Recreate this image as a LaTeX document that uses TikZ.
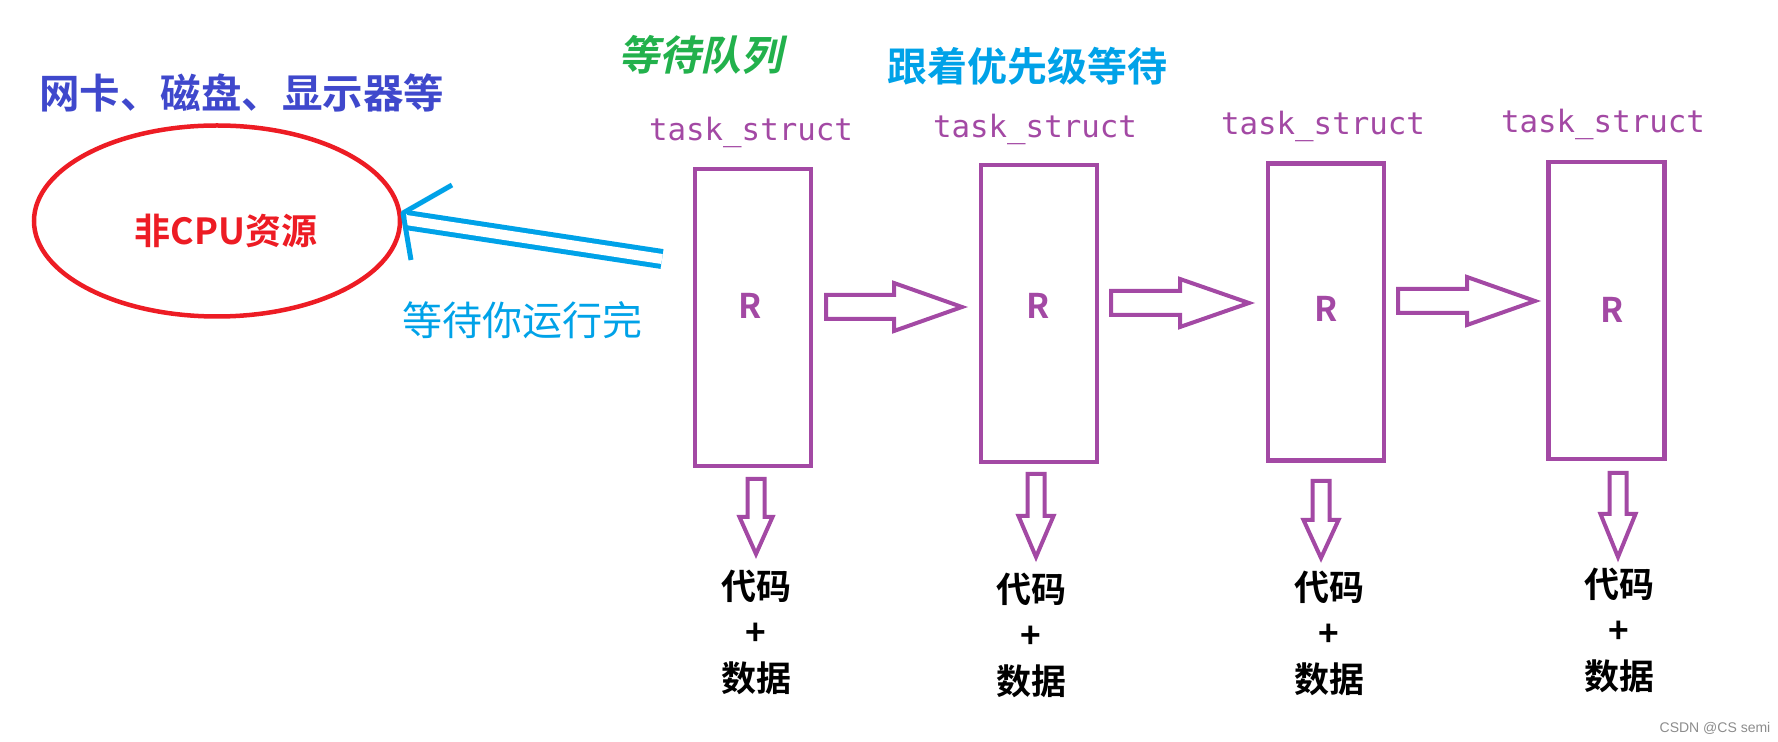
\documentclass[tikz,border=0pt]{standalone}
\usepackage{xcolor}
\usepackage{fontspec}
\usepackage{tikz}
\usetikzlibrary{shapes.geometric}

\newfontfamily\cjk{Noto Sans CJK SC}[BoldFont={Noto Sans CJK SC Bold}]
\newfontfamily\cjkslant{Noto Sans CJK SC Bold}[FakeSlant=0.22]
\newfontfamily\taskfont{DejaVu Sans Mono}
\newfontfamily\markfont{Liberation Sans}

\definecolor{tpurple}{HTML}{A349A4}
\definecolor{tred}{HTML}{ED1C24}
\definecolor{tindigo}{HTML}{3F48CC}
\definecolor{tcyan}{HTML}{00A2E8}
\definecolor{tgreen}{HTML}{22B14C}

\begin{document}
\begin{tikzpicture}[x=0.5pt, y=-0.5pt,
    taskbox/.style={draw=tpurple, line width=2.25pt, minimum width=58pt, minimum height=148.5pt, inner sep=0pt},
    tasklabel/.style={tpurple, anchor=base, font=\taskfont\fontsize{15.4}{18}\selectfont},
    rlabel/.style={tpurple, font=\cjk\bfseries\fontsize{17}{20}\selectfont},
    codelabel/.style={align=center, font=\cjk\bfseries\fontsize{17.5}{23}\selectfont},
    blockarrow/.style={draw=tpurple, line width=2pt},
    waitline/.style={draw=tcyan, line width=2.5pt}]
    \useasboundingbox (0,0) rectangle (1778,742);

    % titles
    \node[tindigo, font=\cjk\bfseries\fontsize{20.25}{24}\selectfont] at (242,93) (devices) {网卡、磁盘、显示器等};
    \node[tgreen, font=\cjkslant\fontsize{20.5}{24}\selectfont] at (700,55) (queue) {等待队列};
    \node[tcyan, font=\cjk\bfseries\fontsize{20}{24}\selectfont] at (1027,66) (prio) {跟着优先级等待};
    \node[tcyan, font=\cjk\fontsize{20}{24}\selectfont] at (522,320) (waitrun) {等待你运行完};

    % the resource
    \node[ellipse, draw=tred, line width=2.25pt, minimum width=183pt, minimum height=95.5pt, inner sep=0pt] at (217,221) (res) {};
    \node[tred, font=\cjk\bfseries\fontsize{18}{22}\selectfont] at (226,231) (restext) {非CPU资源};

    % task_struct boxes
    \node[taskbox] at (753,317.5) (t1) {};
    \node[taskbox] at (1039,313.5) (t2) {};
    \node[taskbox] at (1326,312) (t3) {};
    \node[taskbox] at (1606.5,310.5) (t4) {};

    \node[tasklabel] at (751,141) (l1) {task\_struct};
    \node[tasklabel] at (1035,138) (l2) {task\_struct};
    \node[tasklabel] at (1323,135) (l3) {task\_struct};
    \node[tasklabel] at (1603,133) (l4) {task\_struct};

    \node[rlabel] at (750,306) (r1) {R};
    \node[rlabel] at (1038,306) (r2) {R};
    \node[rlabel] at (1326,309) (r3) {R};
    \node[rlabel] at (1612,310) (r4) {R};

    \node[codelabel] at (756,632) (c1) {代码\\+\hspace*{8pt}\\数据};
    \node[codelabel] at (1031,635) (c2) {代码\\+\hspace*{8pt}\\数据};
    \node[codelabel] at (1329,633) (c3) {代码\\+\hspace*{8pt}\\数据};
    \node[codelabel] at (1619,630) (c4) {代码\\+\hspace*{8pt}\\数据};

    % arrows between the boxes
    \coordinate (a1) at (826,307);
    \coordinate (a2) at (1111,303);
    \coordinate (a3) at (1398,301);
    \draw[blockarrow] (a1) ++(0,-12) -- ++(68,0) -- ++(0,-12) -- ++(68,24) -- ++(-68,24) -- ++(0,-12) -- ++(-68,0) -- cycle;
    \draw[blockarrow] (a2) ++(0,-12) -- ++(69,0) -- ++(0,-12) -- ++(69,24) -- ++(-69,24) -- ++(0,-12) -- ++(-69,0) -- cycle;
    \draw[blockarrow] (a3) ++(0,-12) -- ++(69,0) -- ++(0,-12) -- ++(68,24) -- ++(-68,24) -- ++(0,-12) -- ++(-69,0) -- cycle;

    % arrows down to code and data
    \coordinate (d1) at (756,479);
    \coordinate (d2) at (1036,474);
    \coordinate (d3) at (1321,481);
    \coordinate (d4) at (1618,473);
    \draw[blockarrow] (d1) ++(-8.5,0) -- ++(17,0) -- ++(0,38) -- ++(8,0) -- ++(-16.5,37) -- ++(-16.5,-37) -- ++(8,0) -- cycle;
    \draw[blockarrow] (d2) ++(-8.5,0) -- ++(17,0) -- ++(0,42) -- ++(9,0) -- ++(-17.5,41) -- ++(-17.5,-41) -- ++(9,0) -- cycle;
    \draw[blockarrow] (d3) ++(-8.5,0) -- ++(17,0) -- ++(0,39) -- ++(9,0) -- ++(-17.5,38) -- ++(-17.5,-38) -- ++(9,0) -- cycle;
    \draw[blockarrow] (d4) ++(-8.5,0) -- ++(17,0) -- ++(0,41) -- ++(9,0) -- ++(-17.5,43) -- ++(-17.5,-43) -- ++(9,0) -- cycle;

    % waiting for the resource
    \coordinate (tail) at (662,259);
    \coordinate (tip) at (406,220);
    \coordinate (head) at (403,213);
    \coordinate (barb1) at (452,185);
    \coordinate (barb2) at (411,260);
    \draw[waitline, double=white, double distance=5pt] (tail) -- (tip);
    \draw[waitline, line join=round] (barb1) -- (head) -- (barb2);

    \node[black!45, font=\markfont\fontsize{7}{8}\selectfont] at (1715,728) (csdn) {CSDN @CS semi};
\end{tikzpicture}
\end{document}
